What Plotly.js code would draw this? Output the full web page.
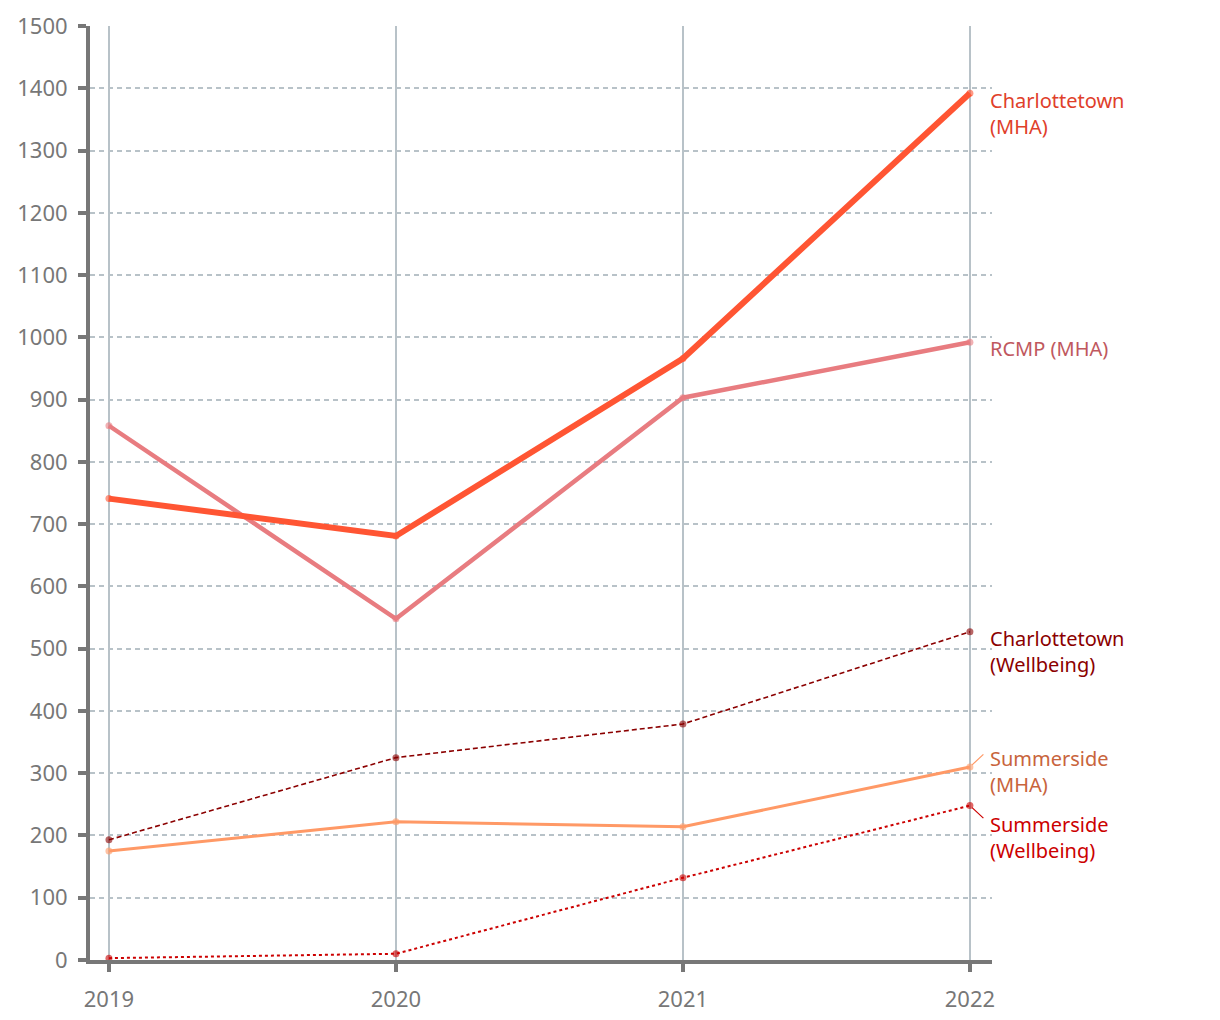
<!DOCTYPE html>
<html>
<head>
<meta charset="utf-8">
<script src="https://cdn.plot.ly/plotly-3.0.1.min.js"></script>
<style>
  body { margin: 0; background: #fff; }
  #plot { width: 1220px; height: 1020px; }
</style>
</head>
<body>
<div id="plot"></div>
<script>
// chart values
let years = [2019, 2020, 2021, 2022];
let charlottetownMHA = [741, 681, 966, 1392];
let rcmpMHA = [858, 548, 903, 992];
let charlottetownWellbeing = [193, 325, 379, 527];
let summersideMHA = [175, 222, 214, 310];
let summersideWellbeing = [3, 10, 132, 248];
let yTicks = [0, 100, 200, 300, 400, 500, 600, 700, 800, 900, 1000, 1100, 1200, 1300, 1400, 1500];

function line(y, color, width, dash, name) {
  return {
    x: years,
    y: y,
    name: name,
    mode: 'lines+markers',
    line: {color: color, width: width, dash: dash, shape: 'linear'},
    marker: {color: color, size: 7, opacity: 0.6},
    hoverinfo: 'x+y+name'
  };
}

let data = [
  line(summersideWellbeing, '#cc0000', 2, 'dot', 'Summerside (Wellbeing)'),
  line(charlottetownWellbeing, '#8b0000', 1.6, '5px,3px', 'Charlottetown (Wellbeing)'),
  line(summersideMHA, '#ff9966', 3, 'solid', 'Summerside (MHA)'),
  line(rcmpMHA, '#e87c80', 4.5, 'solid', 'RCMP (MHA)'),
  line(charlottetownMHA, '#ff5533', 6, 'solid', 'Charlottetown (MHA)')
];

let labelFont = {family: 'Noto Sans, sans-serif', size: 20};
let last = years.length - 1;

function label(text, y, color, yshift) {
  return {
    x: years[last], y: y, xref: 'x', yref: 'y',
    text: text, showarrow: false,
    xanchor: 'left', yanchor: 'middle', align: 'left',
    xshift: 18, yshift: yshift,
    font: Object.assign({}, labelFont, {color: color})
  };
}

// short connector from the last point towards its label
function connector(y, color, ax, ay) {
  return {
    x: years[last], y: y, xref: 'x', yref: 'y',
    text: '', showarrow: true,
    arrowhead: 0, arrowwidth: 1.2, arrowcolor: color,
    ax: ax, ay: ay, standoff: 3
  };
}

let layout = {
  width: 1220,
  height: 1020,
  margin: {l: 90, r: 228, t: 26, b: 60},
  paper_bgcolor: '#ffffff',
  plot_bgcolor: '#ffffff',
  showlegend: false,
  font: {family: 'Noto Sans, sans-serif', color: '#777777'},
  xaxis: {
    range: [2018.934, 2022.077],
    tickvals: years,
    ticktext: years.map(String),
    showgrid: true,
    gridcolor: '#b8c2c8',
    gridwidth: 1.8,
    zeroline: false,
    showline: true,
    linecolor: '#777777',
    linewidth: 3.5,
    ticks: 'outside',
    ticklen: 8,
    tickwidth: 3.5,
    tickcolor: '#777777',
    ticklabelstandoff: 9,
    tickfont: {size: 22, color: '#777777'}
  },
  yaxis: {
    range: [0, 1500],
    tickvals: yTicks,
    showgrid: true,
    gridcolor: '#b8c2c8',
    gridwidth: 1.6,
    griddash: '5px,4px',
    zeroline: false,
    showline: true,
    linecolor: '#777777',
    linewidth: 4,
    ticks: 'outside',
    ticklen: 8,
    tickwidth: 3.5,
    tickcolor: '#777777',
    ticklabelstandoff: 6,
    tickfont: {size: 22, color: '#777777'}
  },
  annotations: [
    label('Charlottetown<br>(MHA)', charlottetownMHA[last], '#e0402a', -20),
    label('RCMP (MHA)', rcmpMHA[last], '#c0585e', -6),
    label('Charlottetown<br>(Wellbeing)', charlottetownWellbeing[last], '#8b0000', -20),
    label('Summerside<br>(MHA)', summersideMHA[last], '#c8643c', -5),
    label('Summerside<br>(Wellbeing)', summersideWellbeing[last], '#cc0000', -32),
    connector(summersideMHA[last], '#ff9966', 15, -14),
    connector(summersideWellbeing[last], '#cc0000', 15, 14)
  ]
};

Plotly.newPlot('plot', data, layout, {displayModeBar: false});
</script>
</body>
</html>
